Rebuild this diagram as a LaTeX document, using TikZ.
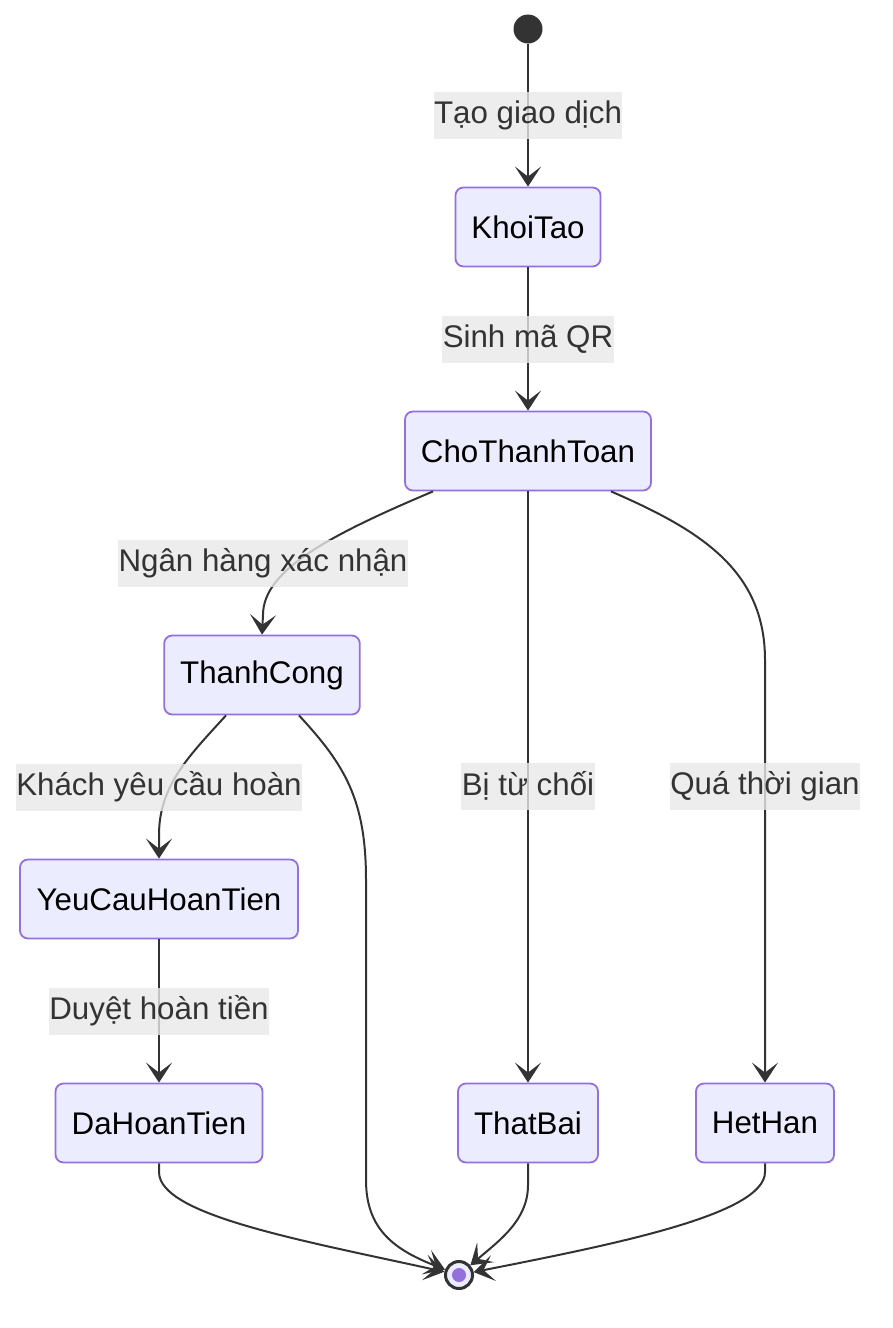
\documentclass[tikz,border=0pt]{standalone}
\usepackage{fontspec}
\setmainfont{Liberation Sans}
\usetikzlibrary{arrows.meta}
\definecolor{boxfill}{HTML}{ECECFF}
\definecolor{boxline}{HTML}{9370DB}
\definecolor{edge}{HTML}{333333}
\definecolor{lblbg}{HTML}{E8E8E8}
\begin{document}
\begin{tikzpicture}[x=1pt,y=-1pt,
  state/.style={draw=boxline, fill=boxfill, line width=1.8pt, rounded corners=8pt,
    minimum height=79pt, inner xsep=16pt, font=\fontsize{31.3}{37}\selectfont, text=black},
  lbl/.style={fill=lblbg, fill opacity=0.8, text opacity=1, text=edge, inner xsep=0.5pt,
    minimum height=47pt, font=\fontsize{31.3}{37}\selectfont},
  tr/.style={draw=edge, line width=2pt, -{Stealth[length=20pt,width=26pt,inset=10pt]}}
]
\useasboundingbox (0,0) rectangle (892,1328);
\node[circle, fill=edge, minimum size=29pt, inner sep=0pt] (start) at (528,29) {};
\node[state, minimum width=145pt] (kt) at (528,227) {KhoiTao};
\node[state, minimum width=246pt] (ctt) at (528,451) {ChoThanhToan};
\node[state, minimum width=195pt] (tc) at (262,675) {ThanhCong};
\node[state, minimum width=278pt] (yc) at (159,899) {YeuCauHoanTien};
\node[state, minimum width=207pt] (dh) at (159,1123) {DaHoanTien};
\node[state, minimum width=140pt] (tb) at (528,1123) {ThatBai};
\node[state, minimum width=138pt] (hh) at (765,1123) {HetHan};
\node[circle, draw=edge, line width=3pt, fill=boxfill, minimum size=27pt, inner sep=0pt] (end) at (459,1275) {};
\fill[boxline] (end.center) circle (7pt);

\draw[tr] (start) -- (kt);
\draw[tr] (kt) -- (ctt);
\draw[tr] ([xshift=-95pt]ctt.south) .. controls (330,535) and (263,570) .. (263,615) -- (tc.north);
\draw[tr] (ctt) -- (tb);
\draw[tr] ([xshift=83pt]ctt.south) .. controls (700,530) and (765,570) .. (765,660) -- (hh.north);
\draw[tr] ([xshift=-36pt]tc.south) .. controls (190,755) and (159,785) .. (159,835) -- (yc.north);
\draw[tr] ([xshift=37pt]tc.south) .. controls (345,765) and (366,800) .. (366,880) -- (366,1180) .. controls (366,1230) and (395,1250) .. (end);
\draw[tr] (yc) -- (dh);
\draw[tr] (dh.south) -- (159,1172) .. controls (159,1215) and (300,1240) .. (end);
\draw[tr] (tb.south) -- (528,1185) .. controls (528,1220) and (500,1240) .. (end);
\draw[tr] (hh.south) -- (765,1172) .. controls (765,1215) and (610,1245) .. (end);

\node[lbl] (l1) at (528,115) {Tạo giao dịch};
\node[lbl] (l2) at (528,339) {Sinh mã QR};
\node[lbl] (l3) at (263,563) {Ngân hàng xác nhận};
\node[lbl] (l4) at (159,787) {Khách yêu cầu hoàn};
\node[lbl] (l5) at (528,786) {Bị từ chối};
\node[lbl] (l6) at (765,786) {Quá thời gian};
\node[lbl] (l7) at (159,1011) {Duyệt hoàn tiền};
\end{tikzpicture}
\end{document}
